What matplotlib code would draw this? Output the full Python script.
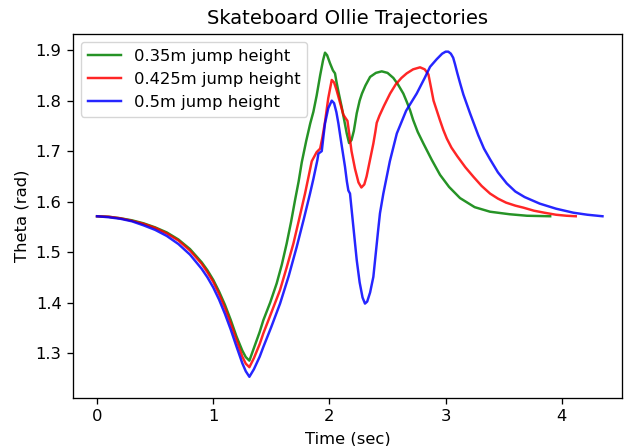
import matplotlib
matplotlib.use("Agg")
import matplotlib.pyplot as plt

# 0.35 m jump height
t_green = [0.00, 0.10, 0.20, 0.30, 0.40, 0.50, 0.60, 0.70, 0.80, 0.90, 0.95, 1.00, 1.05, 1.10,
           1.15, 1.20, 1.25, 1.28, 1.311, 1.35, 1.40, 1.431, 1.49, 1.546, 1.59, 1.632, 1.67,
           1.704, 1.735, 1.762, 1.80, 1.835, 1.862, 1.89, 1.92, 1.945, 1.962, 1.98, 2.005,
           2.03, 2.048, 2.06, 2.08, 2.105, 2.13, 2.149, 2.169, 2.19, 2.21, 2.235, 2.26, 2.28,
           2.31, 2.35, 2.40, 2.45, 2.50, 2.55, 2.59, 2.636, 2.665, 2.694, 2.72, 2.76, 2.809,
           2.88, 2.952, 3.03, 3.124, 3.25, 3.382, 3.55, 3.70, 3.90]
th_green = [1.571, 1.570, 1.567, 1.563, 1.557, 1.549, 1.539, 1.525, 1.506, 1.480, 1.464, 1.445,
            1.422, 1.396, 1.366, 1.333, 1.305, 1.292, 1.285, 1.310, 1.342, 1.365, 1.400, 1.438,
            1.475, 1.517, 1.560, 1.603, 1.640, 1.678, 1.720, 1.755, 1.778, 1.810, 1.850, 1.880,
            1.895, 1.890, 1.874, 1.860, 1.854, 1.838, 1.815, 1.788, 1.758, 1.735, 1.716, 1.722,
            1.740, 1.775, 1.800, 1.814, 1.830, 1.847, 1.855, 1.858, 1.855, 1.845, 1.832, 1.814,
            1.798, 1.781, 1.762, 1.738, 1.715, 1.683, 1.653, 1.629, 1.607, 1.589, 1.580, 1.575,
            1.572, 1.571]

# 0.425 m jump height
t_red = [0.00, 0.10, 0.20, 0.30, 0.40, 0.50, 0.60, 0.70, 0.80, 0.90, 0.95, 1.00, 1.05, 1.10,
         1.15, 1.20, 1.25, 1.28, 1.311, 1.35, 1.40, 1.431, 1.50, 1.575, 1.63, 1.69, 1.74, 1.79,
         1.848, 1.89, 1.92, 1.94, 1.962, 1.99, 2.02, 2.04, 2.06, 2.09, 2.12, 2.14, 2.155, 2.17,
         2.19, 2.22, 2.25, 2.275, 2.30, 2.32, 2.345, 2.378, 2.395, 2.407, 2.43, 2.47, 2.522,
         2.57, 2.62, 2.665, 2.72, 2.78, 2.82, 2.852, 2.875, 2.896, 2.923, 2.95, 2.98, 3.01,
         3.05, 3.10, 3.17, 3.24, 3.31, 3.382, 3.45, 3.52, 3.60, 3.67, 3.76, 3.85, 3.95, 4.04,
         4.12]
th_red = [1.571, 1.570, 1.567, 1.562, 1.556, 1.548, 1.537, 1.523, 1.503, 1.477, 1.460, 1.441,
          1.417, 1.390, 1.359, 1.326, 1.293, 1.279, 1.272, 1.290, 1.318, 1.339, 1.380, 1.425,
          1.468, 1.517, 1.566, 1.616, 1.680, 1.698, 1.705, 1.728, 1.758, 1.805, 1.841, 1.836,
          1.822, 1.797, 1.772, 1.765, 1.760, 1.735, 1.700, 1.665, 1.638, 1.628, 1.634, 1.650,
          1.678, 1.715, 1.738, 1.756, 1.770, 1.790, 1.814, 1.832, 1.845, 1.854, 1.862, 1.866,
          1.862, 1.852, 1.825, 1.800, 1.781, 1.762, 1.742, 1.725, 1.707, 1.690, 1.668, 1.649,
          1.631, 1.616, 1.606, 1.598, 1.592, 1.588, 1.582, 1.578, 1.574, 1.572, 1.571]

# 0.5 m jump height
t_blue = [0.00, 0.10, 0.20, 0.30, 0.40, 0.50, 0.60, 0.70, 0.80, 0.90, 0.95, 1.00, 1.05, 1.10,
          1.15, 1.20, 1.25, 1.28, 1.311, 1.35, 1.40, 1.431, 1.50, 1.575, 1.65, 1.718, 1.78,
          1.833, 1.862, 1.896, 1.905, 1.934, 1.948, 1.962, 1.99, 2.02, 2.04, 2.06, 2.077, 2.105,
          2.134, 2.15, 2.163, 2.177, 2.206, 2.235, 2.26, 2.285, 2.306, 2.325, 2.35, 2.378, 2.42,
          2.435, 2.464, 2.52, 2.58, 2.66, 2.751, 2.82, 2.866, 2.923, 2.97, 3.00, 3.023, 3.045,
          3.065, 3.081, 3.10, 3.124, 3.153, 3.21, 3.28, 3.33, 3.382, 3.45, 3.526, 3.60, 3.68,
          3.81, 3.95, 4.10, 4.22, 4.35]
th_blue = [1.571, 1.569, 1.566, 1.561, 1.553, 1.544, 1.532, 1.516, 1.495, 1.467, 1.450, 1.430,
           1.406, 1.378, 1.347, 1.313, 1.280, 1.264, 1.253, 1.268, 1.293, 1.312, 1.352, 1.398,
           1.453, 1.510, 1.566, 1.616, 1.645, 1.682, 1.695, 1.700, 1.728, 1.755, 1.785, 1.800,
           1.795, 1.777, 1.755, 1.712, 1.669, 1.640, 1.622, 1.616, 1.550, 1.484, 1.440, 1.410,
           1.398, 1.402, 1.420, 1.451, 1.545, 1.577, 1.616, 1.680, 1.735, 1.780, 1.814, 1.845,
           1.867, 1.882, 1.893, 1.897, 1.897, 1.893, 1.885, 1.872, 1.855, 1.835, 1.812, 1.775,
           1.732, 1.705, 1.684, 1.658, 1.636, 1.620, 1.609, 1.596, 1.586, 1.578, 1.574, 1.571]

labels = ["0.35m jump height", "0.425m jump height", "0.5m jump height"]

s = 1.18
plt.rcParams.update({
    "axes.linewidth": 0.8 * s,
    "xtick.major.size": 3.5 * s,
    "ytick.major.size": 3.5 * s,
    "xtick.major.width": 0.8 * s,
    "ytick.major.width": 0.8 * s,
})

fig = plt.figure(figsize=(6.25, 4.46), dpi=100)
ax = fig.add_axes([73/625, 1 - 398/446, (622 - 73)/625, (398 - 34)/446])
ax.plot(t_green, th_green, color="g", lw=1.5 * s, alpha=0.85, label=labels[0])
ax.plot(t_red, th_red, color="r", lw=1.5 * s, alpha=0.85, label=labels[1])
ax.plot(t_blue, th_blue, color="b", lw=1.5 * s, alpha=0.85, label=labels[2])
ax.set_xlim(-0.207, 4.518)
ax.set_ylim(1.211, 1.932)
ax.set_xticks([0, 1, 2, 3, 4])
ax.set_yticks([1.3, 1.4, 1.5, 1.6, 1.7, 1.8, 1.9])
ax.tick_params(labelsize=10 * s, pad=3.5 * s)
ax.set_title("Skateboard Ollie Trajectories", fontsize=12 * s, pad=6 * s)
ax.set_xlabel("Time (sec)", fontsize=10 * s, labelpad=4 * s)
ax.set_ylabel("Theta (rad)", fontsize=10 * s, labelpad=4 * s)
ax.legend(loc="upper left", fontsize=10 * s)
fig.savefig("out.png", dpi=100)
